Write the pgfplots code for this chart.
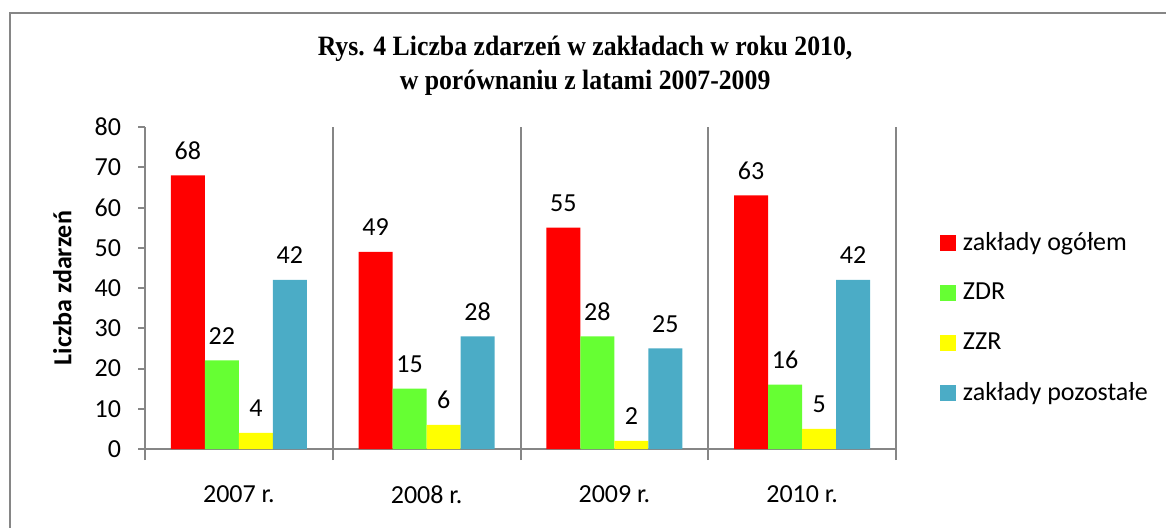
\documentclass[border=0pt]{standalone}
\usepackage{pgfplots}
\pgfplotsset{compat=1.18}
\usepackage{fontspec}
\setmainfont{Carlito}
\newfontfamily\titlefont[FakeStretch=0.92]{Liberation Serif}

\definecolor{zred}{HTML}{FF0000}
\definecolor{zgreen}{HTML}{66FF33}
\definecolor{zyellow}{HTML}{FFFF00}
\definecolor{zblue}{HTML}{4BACC6}
\definecolor{lgray}{HTML}{868686}

\begin{document}
\begin{tikzpicture}
\useasboundingbox (0pt,0pt) rectangle (583pt,-263.5pt);
\draw[lgray, line width=1pt] (5pt,-280pt) -- (5pt,-6.5pt) -- (600pt,-6.5pt);
\begin{axis}[
    at={(72.5pt,-224.5pt)}, anchor=south west,
    scale only axis, width=375.5pt, height=161pt,
    ybar=0pt, bar width=17pt,
    xmin=-0.5, xmax=3.5, ymin=0, ymax=80,
    enlargelimits=false,
    axis x line*=bottom, axis y line*=left,
    axis line style={lgray, line width=1pt},
    xtick={0,1,2,3},
    xticklabels={2007 r., 2008 r., 2009 r., 2010 r.},
    minor xtick={-0.5,0.5,1.5,2.5,3.5},
    xminorgrids=true,
    minor grid style={lgray, line width=1pt},
    ytick={0,10,...,80},
    tick align=outside,
    major tick length=3.5pt,
    minor tick length=5.5pt,
    x tick style={draw=none},
    minor x tick style={lgray, line width=1pt, draw=lgray},
    y tick style={lgray, line width=1pt},
    /pgf/number format/assume math mode=true,
    tick label style={font=\fontsize{13}{15}\selectfont},
    xticklabel style={yshift=-11.5pt},
    yticklabel style={xshift=-5pt},
    ylabel={Liczba zdarzeń},
    every axis y label/.style={at={(axis description cs:-0.11,0.5)}, rotate=90, anchor=center,
        font=\bfseries\fontsize{13}{15}\selectfont},
    title={Rys. 4 Liczba zdarzeń w zakładach w roku 2010,\\ w porównaniu z latami 2007-2009},
    title style={font=\titlefont\bfseries\fontsize{14}{17}\selectfont, align=center,
        at={(0.586,1.152)}, anchor=center},
    nodes near coords,
    every node near coord/.append style={font=\fontsize{13}{15}\selectfont, black, yshift=4.5pt},
    legend style={draw=none, at={(1.050,0.70)}, anchor=north west,
        font=\fontsize{13}{15}\selectfont, row sep=11pt},
    legend cell align=left,
    legend image code/.code={\fill[#1] (0pt,-4pt) rectangle (8pt,4pt);},
    legend style={/tikz/every odd column/.append style={column sep=1.5pt}},
]
\addplot[draw=none, fill=zred] coordinates {(0,68) (1,49) (2,55) (3,63)};
\addplot[draw=none, fill=zgreen] coordinates {(0,22) (1,15) (2,28) (3,16)};
\addplot[draw=none, fill=zyellow] coordinates {(0,4) (1,6) (2,2) (3,5)};
\addplot[draw=none, fill=zblue] coordinates {(0,42) (1,28) (2,25) (3,42)};
\legend{zakłady ogółem, ZDR, ZZR, zakłady pozostałe}
\end{axis}
\end{tikzpicture}
\end{document}
